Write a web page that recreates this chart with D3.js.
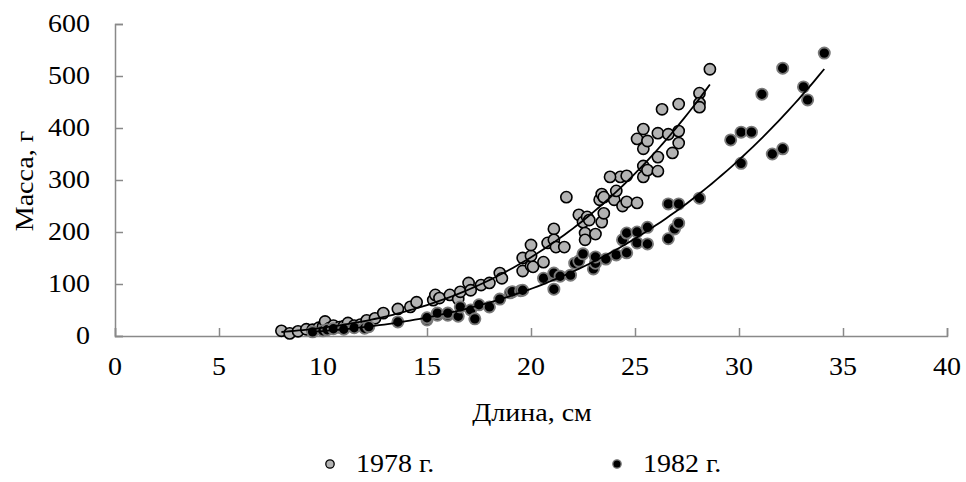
<!DOCTYPE html>
<html><head><meta charset="utf-8">
<script src="https://cdn.jsdelivr.net/npm/d3@7"></script>
<style>body{margin:0;background:#fff}svg{display:block}text{font-family:"Liberation Serif","Times New Roman",serif;fill:#000}</style>
</head><body><svg id="c" width="966" height="482"></svg>
<script>
const xTicks = [0,5,10,15,20,25,30,35,40];
const yTicks = [0,100,200,300,400,500,600];
const seriesNames = ["1978 г.","1982 г."];
const xTitle = "Длина, см";
const yTitle = "Масса, г";
const len1978 = [8.0,8.4,8.8,9.2,9.5,9.8,10.0,10.1,10.3,10.5,10.8,11.0,11.2,11.5,11.8,12.1,12.5,12.9,13.6,14.2,14.5,15.3,15.4,15.6,16.1,16.5,16.6,17.0,17.1,17.6,18.0,18.5,18.6,19.6,19.6,20.0,20.0,20.0,20.1,20.6,20.8,21.1,21.1,21.2,21.6,21.7,22.3,22.5,22.6,22.6,22.7,22.8,23.1,23.3,23.4,23.4,23.5,23.5,24.0,24.1,24.3,23.8,24.4,24.6,24.6,25.1,25.1,25.4,25.4,25.4,25.4,25.6,25.6,26.1,26.1,26.1,26.3,26.6,26.8,27.1,27.1,27.1,28.1,28.1,28.1,28.6];
const mass1978 = [10,5,9,13,12,16,18,28,15,20,17,19,25,20,22,30,34,44,52,56,65,69,79,73,79,71,85,102,88,98,102,121,111,125,150,135,154,175,133,142,179,206,185,171,171,267,233,219,198,185,229,223,196,262,273,219,236,267,262,279,306,306,250,308,258,256,379,398,360,327,306,375,319,390,344,317,436,388,352,394,371,446,467,448,440,513];
const len1982 = [9.5,10.0,10.2,10.5,11.0,11.5,12.0,12.2,13.6,15.0,15.0,15.5,15.5,16.0,16.0,16.5,16.6,17.1,17.3,17.5,18.0,18.5,19.0,19.1,19.5,19.6,20.6,21.1,21.1,21.1,21.4,21.9,22.1,22.3,22.5,23.0,23.1,23.1,23.6,24.1,24.4,24.6,24.6,25.1,25.1,25.6,25.6,26.6,26.6,26.9,27.1,27.1,28.1,29.6,30.1,30.6,30.1,31.1,31.6,32.1,32.1,33.1,33.3,34.1];
const mass1982 = [8,10,12,14,13,16,15,18,27,31,35,40,44,40,44,38,56,50,33,60,56,71,83,85,87,88,111,117,121,90,115,117,140,144,158,129,140,152,148,156,185,160,198,200,179,209,177,187,254,206,217,254,265,377,392,392,332,465,350,360,515,479,454,544];

const svg = d3.select("#c");
const x = d3.scaleLinear().domain([0,40]).range([115,947]);
const y = d3.scaleLinear().domain([0,600]).range([336,24]);
const axisCol = "#898989";
const SX = 1.12, FS = 25;

const gx = svg.append("g").attr("transform","translate(0,336)")
  .call(d3.axisBottom(x).tickValues(xTicks).tickSize(-8).tickFormat(""));
const gy = svg.append("g").attr("transform","translate(115,0)")
  .call(d3.axisLeft(y).tickValues(yTicks).tickSize(-8).tickFormat(""));
[gx,gy].forEach(g=>{g.selectAll("path,line").attr("stroke",axisCol).attr("stroke-width",1.5);});

function label(txt, px, py, anchor, rot){
  svg.append("text").attr("transform",`translate(${px},${py}) rotate(${rot||0}) scale(${SX},1)`)
    .attr("text-anchor",anchor).attr("font-size",FS).text(txt);
}
xTicks.forEach(t=>label(String(t), x(t), 375, "middle"));
yTicks.forEach(t=>label(String(t), 90, y(t)+8, "end"));
label(xTitle, 532, 421, "middle");
svg.append("text").attr("transform",`translate(33,181) rotate(-90) scale(${SX},1)`)
  .attr("text-anchor","middle").attr("font-size",FS).text(yTitle);

const d78 = len1978.map((l,i)=>[l,mass1978[i]]);
const d82 = len1982.map((l,i)=>[l,mass1982[i]]);
svg.append("g").selectAll("circle").data(d78).join("circle")
  .attr("cx",d=>x(d[0])).attr("cy",d=>y(d[1])).attr("r",5.6)
  .attr("fill","#b3b3b3").attr("stroke","#000").attr("stroke-width",1.6);
svg.append("g").selectAll("circle").data(d82).join("circle")
  .attr("cx",d=>x(d[0])).attr("cy",d=>y(d[1])).attr("r",5.6)
  .attr("fill","#000").attr("stroke","#7a7a7a").attr("stroke-width",1.8);

function powerFit(data){
  const lx=data.map(d=>Math.log(d[0])), ly=data.map(d=>Math.log(d[1]));
  const mx=d3.mean(lx), my=d3.mean(ly);
  let sxy=0,sxx=0; lx.forEach((v,i)=>{sxy+=(v-mx)*(ly[i]-my);sxx+=(v-mx)*(v-mx);});
  const b=sxy/sxx, a=Math.exp(my-b*mx);
  const [lo,hi]=d3.extent(data,d=>d[0]);
  return d3.range(0,101).map(k=>{const L=lo+(hi-lo)*k/100;return [L,a*Math.pow(L,b)];});
}
const line = d3.line().x(d=>x(d[0])).y(d=>y(d[1]));
[d78,d82].forEach(d=>svg.append("path").attr("d",line(powerFit(d)))
  .attr("fill","none").attr("stroke","#000").attr("stroke-width",1.8));

svg.append("circle").attr("cx",330).attr("cy",464).attr("r",4.2).attr("fill","#b3b3b3").attr("stroke","#000").attr("stroke-width",1.3);
label(seriesNames[0], 356, 472, "start");
svg.append("circle").attr("cx",617).attr("cy",464).attr("r",4.2).attr("fill","#000").attr("stroke","#7a7a7a").attr("stroke-width",1.3);
label(seriesNames[1], 643, 472, "start");
</script></body></html>
